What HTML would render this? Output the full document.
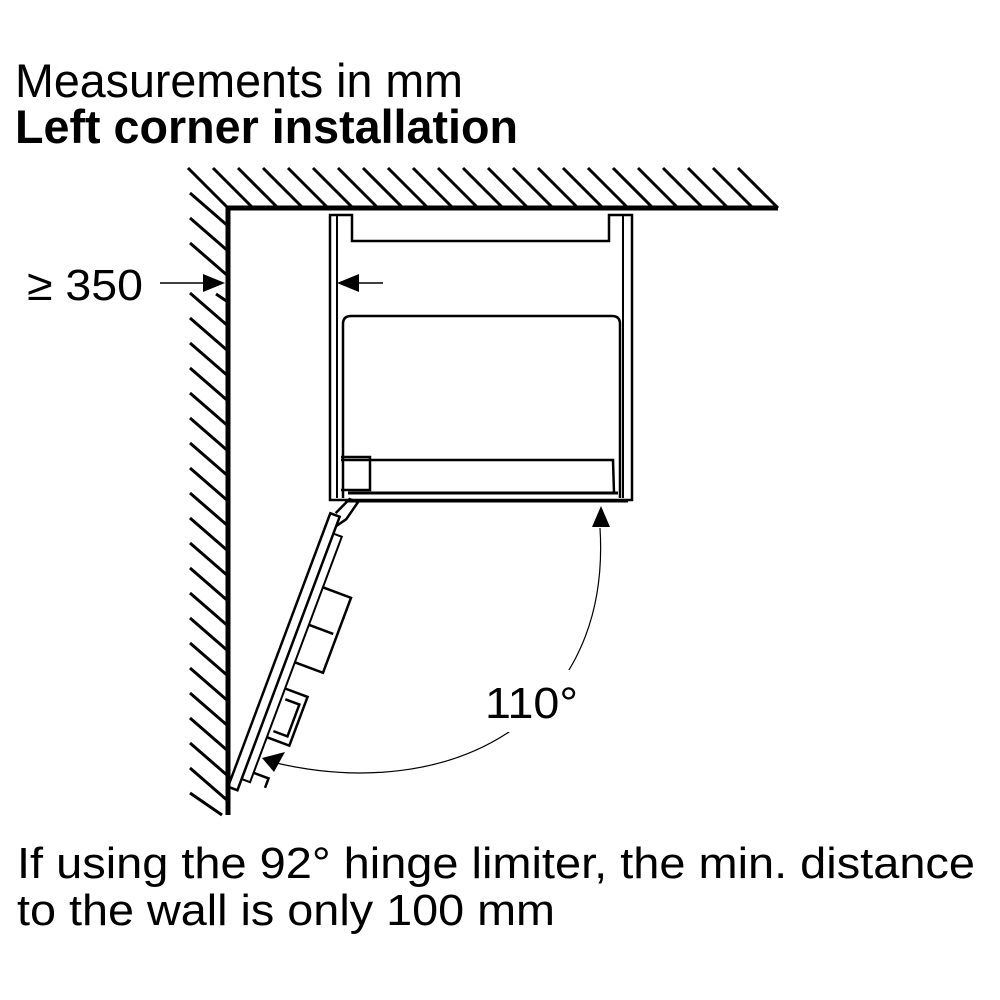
<!DOCTYPE html>
<html><head><meta charset="utf-8"><style>
html,body{margin:0;padding:0;background:#fff;}
svg{display:block;}
text{font-family:"Liberation Sans",sans-serif;fill:#000;}
</style></head><body>
<svg width="1000" height="1000" viewBox="0 0 1000 1000" xmlns="http://www.w3.org/2000/svg">
<rect width="1000" height="1000" fill="#fff"/>
<text x="15" y="97" font-size="47" textLength="448" lengthAdjust="spacingAndGlyphs">Measurements in mm</text>
<text x="15" y="143" font-size="47" font-weight="bold" textLength="503" lengthAdjust="spacingAndGlyphs">Left corner installation</text>
<g stroke="#000" stroke-width="3" fill="none">
<path d="M188,168 L228,208 M213,168 L253,208 M238,168 L278,208 M263,168 L303,208 M288,168 L328,208 M313,168 L353,208 M338,168 L378,208 M363,168 L403,208 M388,168 L428,208 M413,168 L453,208 M438,168 L478,208 M463,168 L503,208 M488,168 L528,208 M513,168 L553,208 M538,168 L578,208 M563,168 L603,208 M588,168 L628,208 M613,168 L653,208 M638,168 L678,208 M663,168 L703,208 M688,168 L728,208 M713,168 L753,208 M738,168 L778,208"/>
<path d="M190,193 L228,226 M190,218 L228,251 M190,243 L228,276 M190,293 L228,326 M190,318 L228,351 M190,343 L228,376 M190,368 L228,401 M190,393 L228,426 M190,418 L228,451 M190,443 L228,476 M190,468 L228,501 M190,493 L228,526 M190,518 L228,551 M190,543 L228,576 M190,568 L228,601 M190,593 L228,626 M190,618 L228,651 M190,643 L228,676 M190,668 L228,701 M190,693 L228,726 M190,718 L228,751 M190,743 L228,776 M190,768 L228,801 M190,793 L222,815 M216,294 L228,302"/>
<path d="M228,815 L228,208 L778,208" stroke-width="5"/>
<path d="M330,500 L330,215 L352,215 L352,241 L609,241 L609,215 L632,215 L632,500 Z" stroke-width="2.5"/>
<path d="M337,216 L337,498 M623,216 L623,498" stroke-width="2"/>
<path d="M343,498 L343,324 Q343,316 351,316 L612,316 Q620,316 620,324 L620,498" stroke-width="2.5"/>
<path d="M341,460 L613,460 L614,493 M341,457 L370,457 L370,490 L341,490" stroke-width="2.5"/>
<path d="M348,493 L618,493 M345,501 L628,501" stroke-width="3"/>
<path d="M160,283 L205,283 M355,283 L383,283" stroke-width="1.5"/>
<path d="M272,762 C450,805 612,720 600,528" stroke-width="1.2"/>
<g transform="translate(335,515) rotate(20.5)">
<rect x="-5" y="0" width="10" height="292" stroke-width="2.5"/>
<rect x="5" y="18" width="9" height="262" stroke-width="2"/>
<path d="M14,72 L44,72 L44,152 L14,152 M14,112 L40,112 M14,180 L38,180 L38,232 L14,232 M18,190 L33,190 L33,224 L18,224 M14,270 L30,270 L30,280" stroke-width="2.5"/>
<path d="M0,-2 L8,-20 L17,-20 L12,0 L5,10" stroke-width="2.5"/>
</g>
</g>
<rect x="482" y="670" width="100" height="62" fill="#fff"/>
<g fill="#000">
<path d="M225,283 L203,274 L203,292 Z"/>
<path d="M337,283 L359,274 L359,292 Z"/>
<path d="M601,506 L592,527 L610,527 Z"/>
<path d="M262,758 L285,752 L274,772 Z"/>
</g>
<text x="27" y="300" font-size="44" textLength="116" lengthAdjust="spacingAndGlyphs">≥ 350</text>
<text x="485" y="718" font-size="44" textLength="93" lengthAdjust="spacingAndGlyphs">110°</text>
<text x="17" y="878" font-size="44" textLength="958" lengthAdjust="spacingAndGlyphs">If using the 92° hinge limiter, the min. distance</text>
<text x="17" y="925" font-size="44" textLength="538" lengthAdjust="spacingAndGlyphs">to the wall is only 100 mm</text>
</svg>
</body></html>
